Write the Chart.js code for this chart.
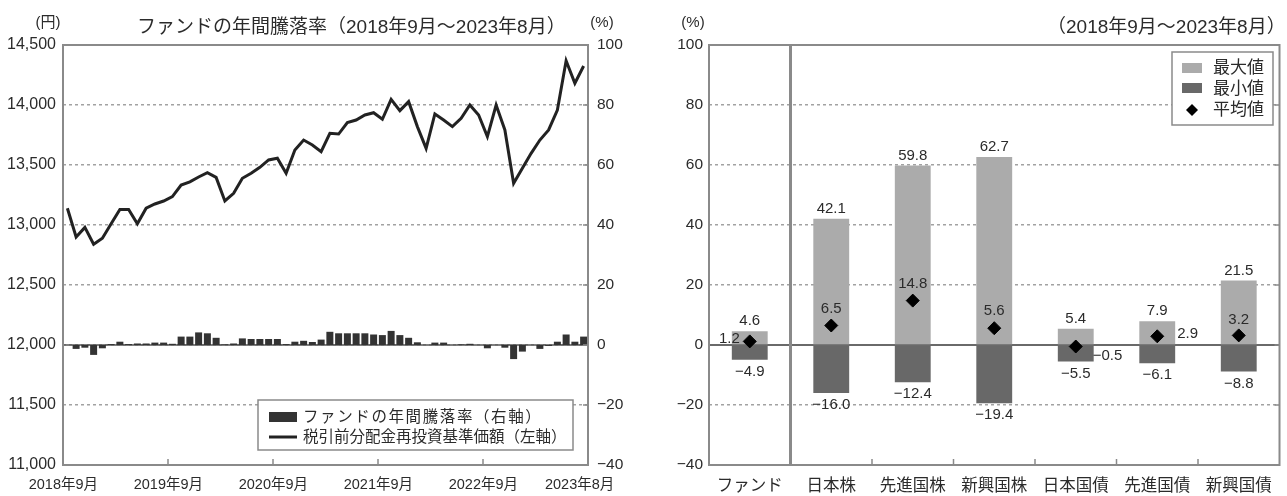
<!DOCTYPE html>
<html lang="ja">
<head>
<meta charset="utf-8">
<title>ファンドの年間騰落率</title>
<script src="https://cdn.jsdelivr.net/npm/chart.js@4.4.1/dist/chart.umd.min.js"></script>
<style>
  html, body { margin: 0; padding: 0; background: #fff; }
  #wrap  { position: relative; width: 1287px; height: 496px; }
  .panel { position: absolute; top: 0; height: 496px; }
  #left  { left: 0;     width: 640px; }
  #right { left: 640px; width: 647px; }
</style>
</head>
<body>
<div id="wrap">
  <div class="panel" id="left"><canvas id="chartLeft" width="640" height="496"></canvas></div>
  <div class="panel" id="right"><canvas id="chartRight" width="647" height="496"></canvas></div>
</div>
<script>
// ── Datos: gráfico izquierdo (mensual, 2018/9 – 2023/8) ──
const MONTHS = [
  '2018/09','2018/10','2018/11','2018/12','2019/01','2019/02','2019/03','2019/04','2019/05','2019/06','2019/07','2019/08',
  '2019/09','2019/10','2019/11','2019/12','2020/01','2020/02','2020/03','2020/04','2020/05','2020/06','2020/07','2020/08',
  '2020/09','2020/10','2020/11','2020/12','2021/01','2021/02','2021/03','2021/04','2021/05','2021/06','2021/07','2021/08',
  '2021/09','2021/10','2021/11','2021/12','2022/01','2022/02','2022/03','2022/04','2022/05','2022/06','2022/07','2022/08',
  '2022/09','2022/10','2022/11','2022/12','2023/01','2023/02','2023/03','2023/04','2023/05','2023/06','2023/07','2023/08'
];
// 税引前分配金再投資基準価額（円, 左軸）
const NAV = [
  13140, 12900, 12980, 12840, 12890, 13010, 13130, 13130, 13010, 13140,
  13175, 13200, 13236, 13333, 13360, 13400, 13436, 13397, 13200, 13264,
  13389, 13431, 13481, 13542, 13556, 13431, 13625, 13708, 13667, 13611,
  13764, 13758, 13853, 13875, 13917, 13936, 13881, 14047, 13953, 14028,
  13820, 13639, 13925, 13875, 13820, 13889, 14000, 13917, 13736, 14000,
  13792, 13347, 13472, 13597, 13708, 13792, 13958, 14369, 14181, 14325
];
// ファンドの年間騰落率（%, 右軸）
const RET = [
   0.0, -1.3, -0.9, -3.3, -1.1,  0.3,  1.1,  0.3,  0.5,  0.5,
   0.8,  0.8,  0.4,  2.8,  2.8,  4.2,  3.9,  2.4,  0.2,  0.5,
   2.2,  2.0,  2.0,  2.0,  2.0,  0.3,  1.1,  1.4,  1.0,  1.8,
   4.4,  3.9,  3.9,  3.9,  3.9,  3.5,  3.3,  4.7,  3.3,  2.4,
   0.9,  0.0,  0.8,  0.8,  0.0,  0.2,  0.4,  0.0, -1.1,  0.0,
  -0.9, -4.7, -2.2,  0.0, -1.3, -0.3,  1.1,  3.5,  1.1,  2.8
];
const TICK_MONTHS = ['2018/09', '2019/09', '2020/09', '2021/09', '2022/09', '2023/08'];
const TICK_TEXT   = ['2018年9月', '2019年9月', '2020年9月', '2021年9月', '2022年9月', '2023年8月'];
const LEFT_TITLE  = 'ファンドの年間騰落率（2018年9月～2023年8月）';
const LEFT_LEGEND = ['ファンドの年間騰落率（右軸）', '税引前分配金再投資基準価額（左軸）'];

// ── Datos: gráfico derecho (資産クラス比較) ──
const CATS     = ['ファンド', '日本株', '先進国株', '新興国株', '日本国債', '先進国債', '新興国債'];
const MAX_VALS = [4.6, 42.1, 59.8, 62.7, 5.4, 7.9, 21.5];
const MIN_VALS = [-4.9, -16.0, -12.4, -19.4, -5.5, -6.1, -8.8];
const AVG_VALS = [1.2, 6.5, 14.8, 5.6, -0.5, 2.9, 3.2];
const RIGHT_TITLE  = '（2018年9月～2023年8月）';
const RIGHT_LEGEND = ['最大値', '最小値', '平均値'];

// ── Estilo ──
const FONT = "'Liberation Sans', 'Noto Sans CJK JP', sans-serif";
const INK  = '#2b2b2b';
const FRAME = '#8a8a8a';
const GRID  = '#a2a2a2';
Chart.defaults.font.family = FONT;
Chart.defaults.color = INK;

const fmtTick = v => v < 0 ? '−' + Math.abs(v) : String(v);
const fmt1    = v => (v < 0 ? '−' : '') + Math.abs(v).toFixed(1);

function seg(ctx, x1, y1, x2, y2) {
  ctx.beginPath(); ctx.moveTo(x1, y1); ctx.lineTo(x2, y2); ctx.stroke();
}

// ════════════════════════════════════════
//  IZQUIERDA — 基準価額（線）＋ 年間騰落率（棒）
// ════════════════════════════════════════
const leftDecor = {
  id: 'leftDecor',
  beforeDatasetsDraw(chart) {
    const { ctx, chartArea: a, scales } = chart;
    const y0 = scales.y2.getPixelForValue(0);
    ctx.save();
    ctx.strokeStyle = '#555'; ctx.lineWidth = 1.5;
    seg(ctx, a.left, y0, a.right, y0);
    ctx.restore();
  },
  afterDraw(chart) {
    const { ctx, chartArea: a, scales } = chart;
    ctx.save();
    // marco
    ctx.strokeStyle = FRAME; ctx.lineWidth = 2;
    ctx.strokeRect(a.left, a.top, a.right - a.left, a.bottom - a.top);
    // marcas eje derecho
    ctx.lineWidth = 1.5;
    scales.y2.ticks.forEach(t => {
      const y = scales.y2.getPixelForValue(t.value);
      seg(ctx, a.right - 5, y, a.right, y);
    });
    // marcas eje x (límites de año)
    TICK_MONTHS.slice(1, -1).forEach(m => {
      const i = MONTHS.indexOf(m);
      const x = (scales.x.getPixelForValue(i - 1) + scales.x.getPixelForValue(i)) / 2;
      seg(ctx, x, a.bottom, x, a.bottom - 6);
    });

    // textos
    ctx.fillStyle = INK;
    ctx.textBaseline = 'middle';
    ctx.textAlign = 'left';
    ctx.font = `19px ${FONT}`;
    ctx.fillText(LEFT_TITLE, 137, 28);
    ctx.textAlign = 'center';
    ctx.font = `15px ${FONT}`;
    ctx.fillText('(円)', 48, 23);
    ctx.fillText('(%)', 602, 23);

    // leyenda
    const bx = 258, by = 400, bw = 315, bh = 50;
    ctx.fillStyle = '#fff';
    ctx.fillRect(bx, by, bw, bh);
    ctx.strokeStyle = FRAME; ctx.lineWidth = 1.5;
    ctx.strokeRect(bx, by, bw, bh);
    ctx.fillStyle = '#333';
    ctx.fillRect(269, 412, 28, 10);
    ctx.strokeStyle = '#222'; ctx.lineWidth = 3;
    seg(ctx, 269, 437, 297, 437);
    ctx.fillStyle = INK;
    ctx.textAlign = 'left';
    ctx.font = `15.5px ${FONT}`;
    if ('letterSpacing' in ctx) ctx.letterSpacing = '1.6px';
    ctx.fillText(LEFT_LEGEND[0], 303, 418);
    if ('letterSpacing' in ctx) ctx.letterSpacing = '0px';
    ctx.fillText(LEFT_LEGEND[1], 303, 438);
    ctx.restore();
  }
};

new Chart(document.getElementById('chartLeft'), {
  type: 'bar',
  data: {
    labels: MONTHS,
    datasets: [
      {
        type: 'line',
        label: LEFT_LEGEND[1],
        data: NAV,
        yAxisID: 'y',
        borderColor: '#222',
        borderWidth: 3,
        pointRadius: 0,
        tension: 0,
        order: 0
      },
      {
        type: 'bar',
        label: LEFT_LEGEND[0],
        data: RET,
        yAxisID: 'y2',
        backgroundColor: '#333',
        barPercentage: 0.8,
        categoryPercentage: 1.0,
        order: 1
      }
    ]
  },
  options: {
    responsive: false,
    animation: false,
    layout: { padding: { top: 45, left: 0, right: 0, bottom: 0 } },
    plugins: { legend: { display: false }, tooltip: { enabled: false } },
    scales: {
      x: {
        offset: true,
        grid:   { display: false, drawTicks: false },
        border: { display: false },
        ticks: {
          autoSkip: false, maxRotation: 0, padding: 11, labelOffset: -4,
          font: { size: 14.5 },
          callback: (v, i) => {
            const k = TICK_MONTHS.indexOf(MONTHS[i]);
            return k >= 0 ? TICK_TEXT[k] : '';
          }
        },
        afterFit: s => { s.height = 31; }
      },
      y: {
        position: 'left',
        min: 11000, max: 14500,
        ticks:  { stepSize: 500, padding: 7, font: { size: 16 }, callback: v => v.toLocaleString('en-US') },
        grid:   { color: GRID, lineWidth: 1.5, drawTicks: false },
        border: { display: false, dash: [3, 3] },
        afterFit: s => { s.width = 63; }
      },
      y2: {
        position: 'right',
        min: -40, max: 100,
        ticks:  { stepSize: 20, padding: 9, font: { size: 15.5 }, callback: fmtTick },
        grid:   { display: false, drawTicks: false },
        border: { display: false },
        afterFit: s => { s.width = 52; }
      }
    }
  },
  plugins: [leftDecor]
});

// ════════════════════════════════════════
//  DERECHA — 最大値・最小値・平均値
// ════════════════════════════════════════
// dónde va la etiqueta del promedio: [dx, dy, align]
const AVG_LABEL_AT = [
  [-10, -3, 'right'], [0, -17, 'center'], [0, -17, 'center'], [0, -17, 'center'],
  [17, 9, 'left'], [20, -2, 'left'], [0, -16, 'center']
];

const rightDecor = {
  id: 'rightDecor',
  afterDatasetDraw(chart, args) {
    if (args.index !== 1) return;
    const { ctx, chartArea: a, scales } = chart;
    const y0 = scales.y.getPixelForValue(0);
    ctx.save();
    ctx.strokeStyle = '#6a6a6a'; ctx.lineWidth = 2;
    seg(ctx, a.left, y0, a.right, y0);
    ctx.restore();
  },
  afterDraw(chart) {
    const { ctx, chartArea: a, scales } = chart;
    const xs = scales.x, ys = scales.y;
    ctx.save();
    // marco
    ctx.strokeStyle = FRAME; ctx.lineWidth = 2;
    ctx.strokeRect(a.left, a.top, a.right - a.left, a.bottom - a.top);
    // separador ファンド | 資産
    const sepX = (xs.getPixelForValue(0) + xs.getPixelForValue(1)) / 2;
    ctx.lineWidth = 3;
    seg(ctx, sepX, a.top, sepX, a.bottom);
    // marcas
    ctx.lineWidth = 1.5;
    for (let k = 2; k < CATS.length; k++) {
      const x = (xs.getPixelForValue(k - 1) + xs.getPixelForValue(k)) / 2;
      seg(ctx, x, a.bottom, x, a.bottom - 6);
    }
    ys.ticks.forEach(t => {
      const y = ys.getPixelForValue(t.value);
      seg(ctx, a.right - 5, y, a.right, y);
    });

    // etiquetas de valores
    ctx.fillStyle = INK;
    ctx.textBaseline = 'middle';
    ctx.font = `15px ${FONT}`;
    CATS.forEach((c, i) => {
      const x = xs.getPixelForValue(i);
      ctx.textAlign = 'center';
      ctx.fillText(fmt1(MAX_VALS[i]), x, ys.getPixelForValue(MAX_VALS[i]) - 10);
      ctx.fillText(fmt1(MIN_VALS[i]), x, ys.getPixelForValue(MIN_VALS[i]) + 12);
      const [dx, dy, al] = AVG_LABEL_AT[i];
      ctx.textAlign = al;
      ctx.fillText(fmt1(AVG_VALS[i]), x + dx, ys.getPixelForValue(AVG_VALS[i]) + dy);
    });

    // textos
    ctx.textAlign = 'center';
    ctx.fillText('(%)', 53, 23);
    ctx.textAlign = 'left';
    ctx.font = `19px ${FONT}`;
    ctx.fillText(RIGHT_TITLE, 407, 28);

    // leyenda
    const bx = 532, by = 52, bw = 101, bh = 73;
    ctx.fillStyle = '#fff';
    ctx.fillRect(bx, by, bw, bh);
    ctx.strokeStyle = FRAME; ctx.lineWidth = 1.5;
    ctx.strokeRect(bx, by, bw, bh);
    ctx.fillStyle = '#ababab'; ctx.fillRect(542, 63, 20, 10);
    ctx.fillStyle = '#686868'; ctx.fillRect(542, 83, 20, 10);
    ctx.fillStyle = '#000';
    ctx.beginPath();
    ctx.moveTo(552, 104); ctx.lineTo(558, 110); ctx.lineTo(552, 116); ctx.lineTo(546, 110);
    ctx.closePath(); ctx.fill();
    ctx.fillStyle = INK;
    ctx.font = `17px ${FONT}`;
    ctx.fillText(RIGHT_LEGEND[0], 573, 68);
    ctx.fillText(RIGHT_LEGEND[1], 573, 89);
    ctx.fillText(RIGHT_LEGEND[2], 573, 110);
    ctx.restore();
  }
};

new Chart(document.getElementById('chartRight'), {
  type: 'bar',
  data: {
    labels: CATS,
    datasets: [
      {
        label: RIGHT_LEGEND[0], data: MAX_VALS, backgroundColor: '#ababab',
        grouped: false, barPercentage: 0.44, categoryPercentage: 1.0, order: 2
      },
      {
        label: RIGHT_LEGEND[1], data: MIN_VALS, backgroundColor: '#686868',
        grouped: false, barPercentage: 0.44, categoryPercentage: 1.0, order: 2
      },
      {
        type: 'line', label: RIGHT_LEGEND[2], data: AVG_VALS, showLine: false,
        pointStyle: 'rectRot', pointRadius: 6.5,
        pointBackgroundColor: '#000', pointBorderColor: '#000', order: 0
      }
    ]
  },
  options: {
    responsive: false,
    animation: false,
    layout: { padding: { top: 45, left: 0, right: 2, bottom: 0 } },
    plugins: { legend: { display: false }, tooltip: { enabled: false } },
    scales: {
      x: {
        offset: true,
        grid:   { display: false, drawTicks: false },
        border: { display: false },
        ticks:  { autoSkip: false, maxRotation: 0, padding: 12, font: { size: 16.5 } },
        afterFit: s => { s.height = 31; }
      },
      y: {
        min: -40, max: 100,
        ticks:  { stepSize: 20, padding: 6, font: { size: 15.5 }, callback: fmtTick },
        grid:   { color: GRID, lineWidth: 1.5, drawTicks: false },
        border: { display: false, dash: [3, 3] },
        afterFit: s => { s.width = 69; }
      }
    }
  },
  plugins: [rightDecor]
});
</script>
</body>
</html>
